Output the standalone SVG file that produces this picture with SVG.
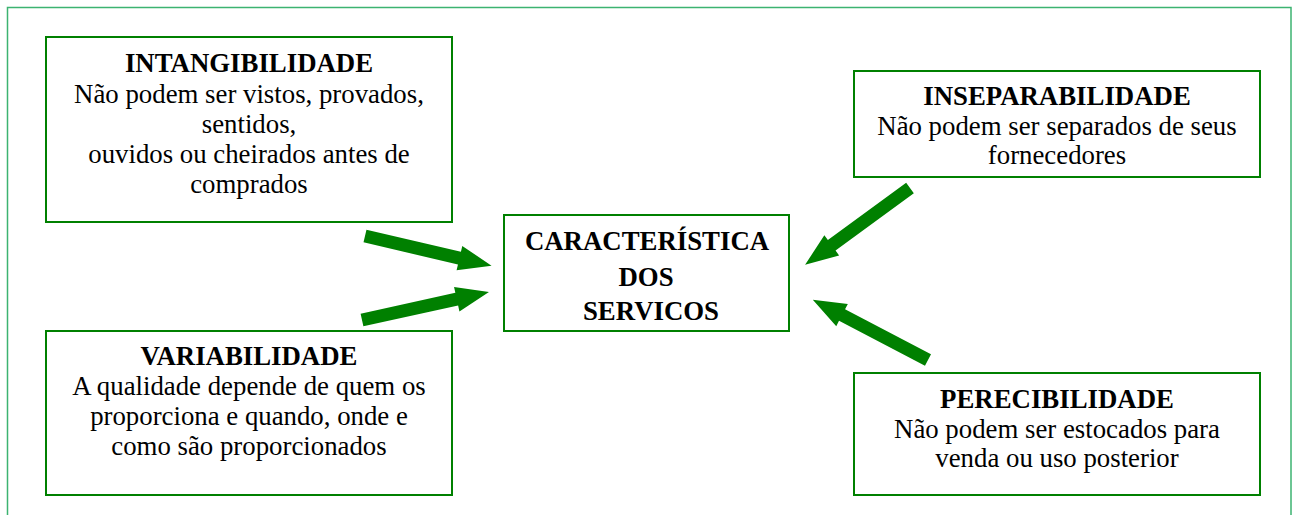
<svg xmlns="http://www.w3.org/2000/svg" xmlns:xlink="http://www.w3.org/1999/xlink" width="1296" height="515" viewBox="0 0 1296 515">
<style>
.frame{fill:none;stroke:#3cb371;stroke-width:1.5}
.box{fill:#fff;stroke:#008000;stroke-width:2}
.t{font-family:"Liberation Serif","Times New Roman",serif;font-size:26.8px;fill:#000;text-anchor:middle}
.b{font-weight:bold}
.arr{fill:#008000}
</style>
<defs>
<path id="arrow" d="M0,-6.5 L97,-6.5 L97,-12.5 L130,0 L97,12.5 L97,6.5 L0,6.5 Z"/>
</defs>
<rect width="1296" height="515" fill="#fff"/>
<rect class="frame" x="7.5" y="7.5" width="1283.5" height="520"/>
<g id="connectors" class="arr">
<use xlink:href="#arrow" href="#arrow" transform="translate(365,236) rotate(13.2)"/>
<use xlink:href="#arrow" href="#arrow" transform="translate(362,320) rotate(-12.4)"/>
<use xlink:href="#arrow" href="#arrow" transform="translate(910,188) rotate(143.8)"/>
<use xlink:href="#arrow" href="#arrow" transform="translate(928,360) rotate(207.6)"/>
</g>
<g id="intangibilidade">
<rect class="box" x="46" y="37" width="406" height="185"/>
<text class="t b" x="249" y="72">INTANGIBILIDADE</text>
<text class="t" x="249" y="103">Não podem ser vistos, provados,</text>
<text class="t" x="249" y="133">sentidos,</text>
<text class="t" x="249" y="163">ouvidos ou cheirados antes de</text>
<text class="t" x="249" y="193">comprados</text>
</g>
<g id="inseparabilidade">
<rect class="box" x="854" y="71" width="406" height="106"/>
<text class="t b" x="1057" y="105">INSEPARABILIDADE</text>
<text class="t" x="1057" y="135">Não podem ser separados de seus</text>
<text class="t" x="1057" y="164">fornecedores</text>
</g>
<g id="caracteristica">
<rect class="box" x="504" y="215" width="285" height="116"/>
<text class="t b" x="647" y="250">CARACTERÍSTICA</text>
<text class="t b" x="646" y="286">DOS</text>
<text class="t b" x="651" y="320">SERVICOS</text>
</g>
<g id="variabilidade">
<rect class="box" x="46" y="331" width="406" height="164"/>
<text class="t b" x="249" y="365">VARIABILIDADE</text>
<text class="t" x="249" y="395">A qualidade depende de quem os</text>
<text class="t" x="249" y="425">proporciona e quando, onde e</text>
<text class="t" x="249" y="455">como são proporcionados</text>
</g>
<g id="perecibilidade">
<rect class="box" x="854" y="373" width="406" height="122"/>
<text class="t b" x="1057" y="408">PERECIBILIDADE</text>
<text class="t" x="1057" y="438">Não podem ser estocados para</text>
<text class="t" x="1057" y="467">venda ou uso posterior</text>
</g>
</svg>
